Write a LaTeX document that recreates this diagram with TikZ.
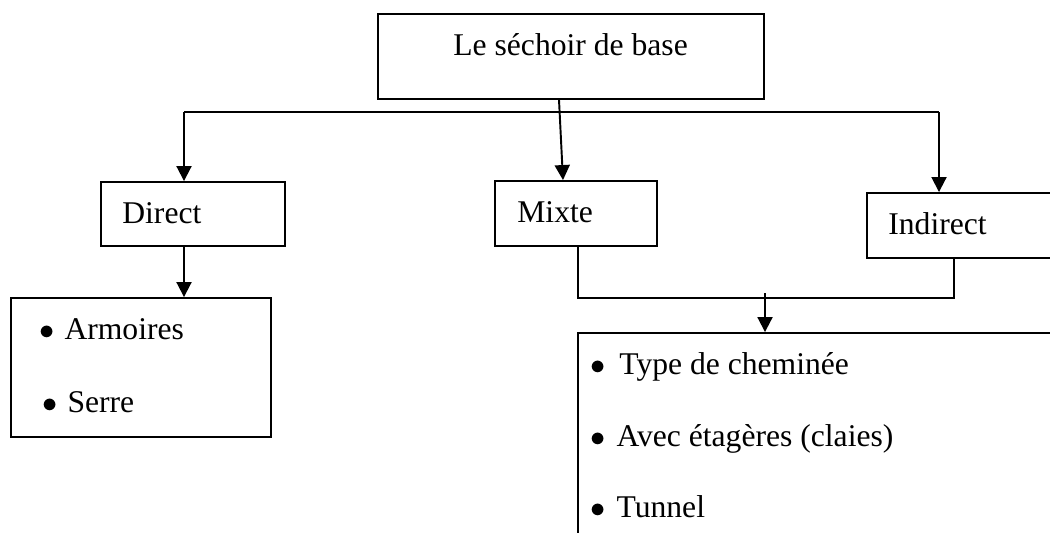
\documentclass[tikz,border=0pt]{standalone}
\usepackage{fontspec}
\setmainfont{Liberation Serif}
\usetikzlibrary{arrows.meta,calc}

\tikzset{
    boite/.style={draw, line width=1.1pt, rectangle, inner sep=0pt},
    texte/.style={anchor=base west, inner sep=0pt, font=\fontsize{18}{22}\selectfont},
    fleche/.style={line width=1.1pt, -{Triangle[length=0.3cm, width=0.3cm]}},
    trait/.style={line width=1.1pt}
}

\begin{document}
\begin{tikzpicture}[x=0.02cm, y=-0.02cm]
    \useasboundingbox (0,0) rectangle (1050,532);
    \clip (0,0) rectangle (1050,532);

    % Step 1: boites
    \node[boite, minimum width=7.72cm, minimum height=1.70cm] (base) at (571,56.5) {};
    \node[boite, minimum width=3.68cm, minimum height=1.28cm] (direct) at (193,214) {};
    \node[boite, minimum width=3.24cm, minimum height=1.30cm] (mixte) at (576,213.5) {};
    \node[boite, minimum width=4.06cm, minimum height=1.30cm] (indirect) at (968.5,225.5) {};
    \node[boite, minimum width=5.20cm, minimum height=2.78cm] (listeD) at (141,367.5) {};
    \node[boite, minimum width=9.84cm, minimum height=4.54cm] (listeI) at (824,446.5) {};

    % Step 2: textes
    \node[texte] (tbase) at (453,55) {Le séchoir de base};
    \node[texte] (tdirect) at (122,223) {Direct};
    \node[texte] (tmixte) at (517,222) {Mixte};
    \node[texte] (tindirect) at (888,234) {Indirect};

    % Step 3: listes
    \node[texte] (armoires) at (39.5,339) {$\bullet$\hspace{5.4pt}Armoires};
    \node[texte] (serre) at (42.5,412) {$\bullet$\hspace{5.4pt}Serre};
    \node[texte] (cheminee) at (590.5,374) {$\bullet$\hspace{7.6pt}Type de cheminée};
    \node[texte] (claies) at (590.5,446) {$\bullet$\hspace{6pt}Avec étagères (claies)};
    \node[texte] (tunnel) at (590.5,517) {$\bullet$\hspace{6pt}Tunnel};

    % Step 4: repartition
    \coordinate (busL) at (184,112);
    \coordinate (busR) at (939,112);
    \draw[trait] (busL) -- (busR);
    \draw[fleche] (busL) -- (direct.north -| busL);
    \draw[fleche] (busR) -- (indirect.north -| busR);
    \draw[fleche] ($(base.south)+(-12,0)$) -- ($(mixte.north)+(-13,0)$);

    % Step 5: direct -> liste
    \draw[fleche] (direct.south -| busL) -- (listeD.north -| busL);

    % Step 6: mixte + indirect -> liste
    \coordinate (jL) at (578,298);
    \coordinate (jR) at (954,298);
    \coordinate (jM) at (765,293);
    \draw[trait] (mixte.south -| jL) -- (jL) -- (jR) -- (indirect.south -| jR);
    \draw[fleche] (jM) -- (listeI.north -| jM);

\end{tikzpicture}
\end{document}
